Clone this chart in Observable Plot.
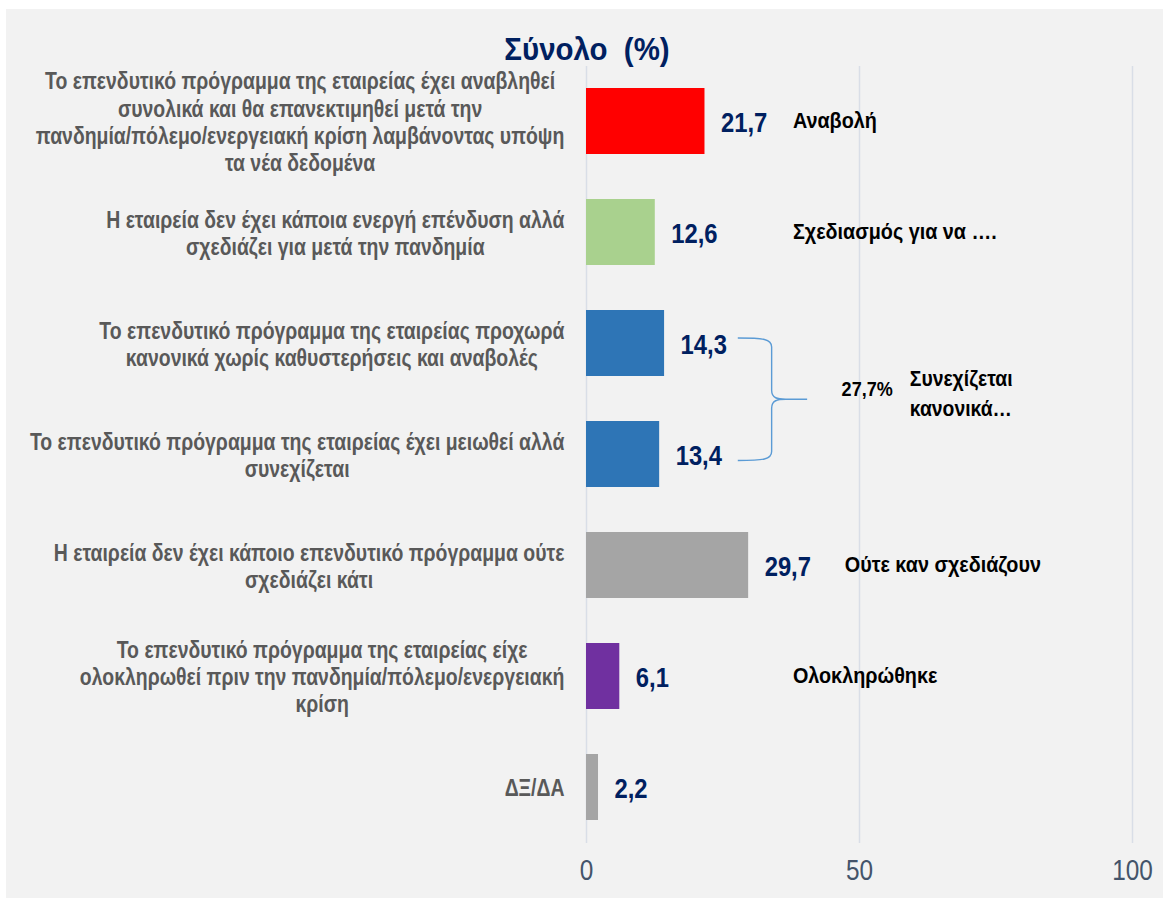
<!DOCTYPE html>
<html><head><meta charset="utf-8">
<script src="https://cdn.jsdelivr.net/npm/d3@7"></script>
<script src="https://cdn.jsdelivr.net/npm/@observablehq/plot@0.6"></script>
<style>
html,body{margin:0;padding:0;background:#fff;}
#wrap{position:relative;width:1163px;height:900px;overflow:hidden;}
#panel{position:absolute;left:6px;top:9px;width:1157px;height:889px;background:#f2f2f2;}
#title{position:absolute;top:29px;left:0;width:1174px;text-align:center;white-space:pre;line-height:40px;
  transform:scaleX(0.92);transform-origin:587px 0;
  font-family:'Liberation Sans',Arial,sans-serif;font-weight:bold;font-size:32px;color:#002060;}
#chart{position:absolute;left:0;top:0;}
</style></head><body>
<div id="wrap"><div id="panel"></div><div id="title">Σύνολο  (%)</div><div id="chart"></div></div>
<script>
const categories = [
  "Το επενδυτικό πρόγραμμα της εταιρείας έχει αναβληθεί\nσυνολικά και θα επανεκτιμηθεί μετά την\nπανδημία/πόλεμο/ενεργειακή κρίση λαμβάνοντας υπόψη\nτα νέα δεδομένα",
  "Η εταιρεία δεν έχει κάποια ενεργή επένδυση αλλά\nσχεδιάζει για μετά την πανδημία",
  "Το επενδυτικό πρόγραμμα της εταιρείας προχωρά\nκανονικά χωρίς καθυστερήσεις και αναβολές",
  "Το επενδυτικό πρόγραμμα της εταιρείας έχει μειωθεί αλλά\nσυνεχίζεται",
  "Η εταιρεία δεν έχει κάποιο επενδυτικό πρόγραμμα ούτε\nσχεδιάζει κάτι",
  "Το επενδυτικό πρόγραμμα της εταιρείας είχε\nολοκληρωθεί πριν την πανδημία/πόλεμο/ενεργειακή\nκρίση",
  "ΔΞ/ΔΑ"
];
const values = [21.7, 12.6, 14.3, 13.4, 29.7, 6.1, 2.2];
const notes = ["Αναβολή", "Σχεδιασμός για να ….", "", "", "Ούτε καν σχεδιάζουν", "Ολοκληρώθηκε", ""];
const groupMembers = [2, 3];
const groupTotal = "27,7%";
const groupNote = "Συνεχίζεται\nκανονικά…";
const xTicks = [0, 50, 100];

// styles
const barColors = ["#ff0000", "#a9d18e", "#2e75b6", "#2e75b6", "#a5a5a5", "#7030a0", "#a5a5a5"];
const FONT = "'Liberation Sans',Arial,sans-serif";
const LABEL_SIZE = 23;
// horizontal condensing (emulates Arial Narrow) keyed by text colour
const SX = {"#595959": 0.845, "#002060": 0.85, "#000000": 0.9, "#44546a": 0.84};

const data = categories.map((c, i) => ({cat: c, value: values[i], note: notes[i], color: barColors[i]}));
const fmt = v => d3.format(".1f")(v).replace(".", ",");

const ctx = document.createElement("canvas").getContext("2d");
ctx.font = `bold ${LABEL_SIZE}px ${FONT}`;
const blockWidth = c => d3.max(c.split("\n"), l => ctx.measureText(l).width) * SX["#595959"];

const labelMarks = categories.map(c => Plot.text([c], {
  y: d => d, frameAnchor: "left", textAnchor: "middle", dx: -22 - blockWidth(c) / 2,
  fontFamily: FONT, fontSize: LABEL_SIZE, fontWeight: "bold", fill: "#595959", lineHeight: 1.18
}));

function brace(index, scales) {
  const x = scales.x, y = scales.y;
  const bw = y.bandwidth ? y.bandwidth() : 0;
  const c1 = y(categories[groupMembers[0]]) + bw / 2;
  const c2 = y(categories[groupMembers[1]]) + bw / 2;
  const y1 = c1 - 5, y2 = c2 + 6.5, ym = (y1 + y2) / 2;
  const x0 = x(27.8), xs = x(34), xt = x(40.5);
  const p = `M${x0},${y1} C${xs - 8},${y1} ${xs},${y1 + 1} ${xs},${y1 + 9} L${xs},${ym - 9} C${xs},${ym - 1} ${xs + 6},${ym} ${xs + 14},${ym} L${xt},${ym}` +
            ` M${xt},${ym} L${xs + 14},${ym} C${xs + 6},${ym} ${xs},${ym + 1} ${xs},${ym + 9} L${xs},${y2 - 9} C${xs},${y2 - 1} ${xs - 8},${y2} ${x0},${y2}`;
  const g = d3.create("svg:g");
  g.append("path").attr("d", p).attr("fill", "none").attr("stroke", "#5b9bd5").attr("stroke-width", 1.4);
  g.append("text").attr("transform", `translate(${x(51.5)},${ym - 11}) scale(0.86,1)`).attr("dy", "0.35em")
    .attr("text-anchor", "middle").attr("font-family", FONT).attr("font-weight", "bold").attr("font-size", 21)
    .attr("fill", "#000").text(groupTotal);
  const lines = groupNote.split("\n");
  lines.forEach((l, i) => {
    g.append("text").attr("transform", `translate(${x(59.3)},${ym - 6 + (i - (lines.length - 1) / 2) * 30}) scale(0.88,1)`)
      .attr("dy", "0.35em").attr("text-anchor", "start").attr("font-family", FONT).attr("font-weight", "bold")
      .attr("font-size", 22).attr("fill", "#000").text(l);
  });
  return g.node();
}

const plot = Plot.plot({
  width: 1163, height: 900,
  marginLeft: 586, marginRight: 31, marginTop: 66, marginBottom: 57,
  style: {background: "transparent", fontFamily: FONT, overflow: "visible"},
  x: {domain: [0, 100], axis: null},
  y: {domain: categories, axis: null, paddingInner: 0.405, paddingOuter: 0.2},
  marks: [
    Plot.ruleX(xTicks, {x: d => d, stroke: "#d9dee7", strokeWidth: 1.5}),
    Plot.barX(data, {x: "value", y: "cat", fill: "color"}),
    Plot.text(data, {x: "value", y: "cat", text: d => fmt(d.value), dx: 16, dy: 2, textAnchor: "start",
      fontFamily: FONT, fontSize: 28, fontWeight: "bold", fill: "#002060"}),
    Plot.text(data.filter(d => d.note), {x: d => d.note === "Ούτε καν σχεδιάζουν" ? 47.3 : 37.8, y: "cat", text: "note",
      textAnchor: "start", dy: -1, fontFamily: FONT, fontSize: 22, fontWeight: "bold", fill: "#000000"}),
    ...labelMarks,
    Plot.text(xTicks, {x: d => d, text: d => String(d), frameAnchor: "bottom", dy: 36,
      fontFamily: FONT, fontSize: 29, fill: "#44546a"}),
    brace
  ]
});

// condense text horizontally around each text's anchor point
d3.select(plot).selectAll("g[aria-label='text']").each(function () {
  const fill = (this.getAttribute("fill") || "").toLowerCase();
  const s = SX[fill];
  if (!s) return;
  d3.select(this).selectAll("text").each(function () {
    const t = this.getAttribute("transform") || "";
    this.setAttribute("transform", `${t} scale(${s},1)`);
  });
});

document.getElementById("chart").appendChild(plot);
</script>
</body></html>
